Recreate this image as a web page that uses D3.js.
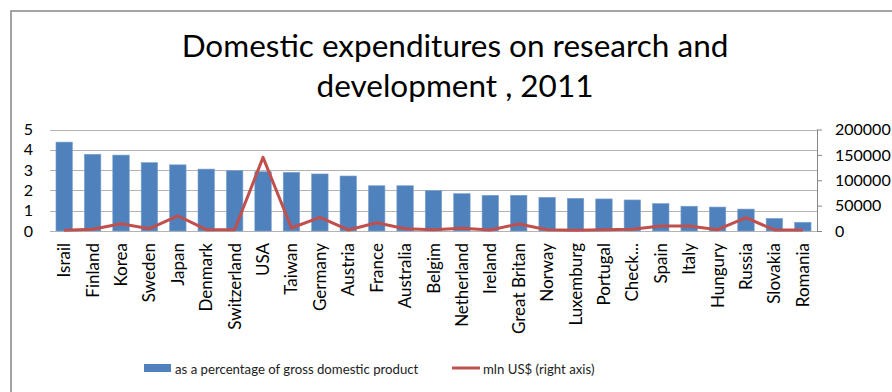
<!DOCTYPE html>
<html>
<head>
<meta charset="utf-8">
<script src="https://cdn.jsdelivr.net/npm/d3@7"></script>
<style>
  html, body { margin: 0; padding: 0; background: #fff; overflow: hidden; }
  svg { display: block; font-family: Lato, "Open Sans", sans-serif; }
</style>
</head>
<body>
<svg id="chart" width="892" height="392"></svg>
<script>
// R&D spending by country, 2011
const categories = ["Israil", "Finland", "Korea", "Sweden", "Japan", "Denmark", "Switzerland", "USA",
  "Taiwan", "Germany", "Austria", "France", "Australia", "Belgim", "Netherland", "Ireland",
  "Great Britan", "Norway", "Luxemburg", "Portugal", "Check...", "Spain", "Italy", "Hungury",
  "Russia", "Slovakia", "Romania"];

// share of gross domestic product, %
const gdpShare = [4.38, 3.78, 3.74, 3.37, 3.26, 3.05, 2.98, 2.92, 2.89, 2.81, 2.71, 2.23, 2.23,
  1.99, 1.84, 1.76, 1.76, 1.66, 1.61, 1.58, 1.53, 1.35, 1.22, 1.18, 1.08, 0.62, 0.43];

// spending, mln US$ (right axis)
const spendingMln = [1400, 3300, 14400, 4500, 30000, 2600, 2600, 145000, 5900, 27000, 2000, 16400,
  4500, 2600, 5300, 2000, 13800, 2600, 1400, 2600, 3300, 9900, 9900, 2600, 26200, 2000, 2000];

const leftTicks = [0, 1, 2, 3, 4, 5];
const rightTicks = [0, 50000, 100000, 150000, 200000];

const titleLines = ["Domestic expenditures on research and", "development , 2011"];
const legendLabels = ["as a percentage of gross domestic product", "mln US$ (right axis)"];

const barColor = "#4F81BD";
const lineColor = "#C0504D";

const svg = d3.select("#chart");

// outer chart frame
svg.append("rect")
  .attr("x", 11).attr("y", 11)
  .attr("width", 900).attr("height", 400)
  .attr("fill", "none").attr("stroke", "#878787").attr("stroke-width", 1.5);

// title
svg.append("g").selectAll("text")
  .data(titleLines)
  .join("text")
  .attr("x", 455)
  .attr("y", (d, i) => 57 + i * 40)
  .attr("text-anchor", "middle")
  .attr("font-size", 31.5)
  .attr("fill", "#000")
  .text(d => d);

const plot = { left: 50, right: 817, top: 129.5, bottom: 231 };

const x = d3.scaleBand()
  .domain(categories)
  .range([plot.left, plot.right])
  .paddingInner(0.42)
  .paddingOuter(0.21);

const yLeft = d3.scaleLinear().domain([0, 5]).range([plot.bottom, plot.top]);
const yRight = d3.scaleLinear().domain([0, 200000]).range([plot.bottom, plot.top]);

// horizontal gridlines
svg.append("g").selectAll("line")
  .data(leftTicks)
  .join("line")
  .attr("x1", plot.left).attr("x2", plot.right)
  .attr("y1", d => Math.round(yLeft(d)) + 0.5)
  .attr("y2", d => Math.round(yLeft(d)) + 0.5)
  .attr("stroke", "#b3b3b3").attr("stroke-width", 1);

// bars
svg.append("g").selectAll("rect")
  .data(categories)
  .join("rect")
  .attr("x", d => x(d))
  .attr("width", x.bandwidth())
  .attr("y", (d, i) => yLeft(gdpShare[i]))
  .attr("height", (d, i) => yLeft(0) - yLeft(gdpShare[i]))
  .attr("fill", barColor)
  .attr("stroke", "#7fa3cf").attr("stroke-width", 0.6);

// spending line
const line = d3.line()
  .x(d => x(d.c) + x.bandwidth() / 2)
  .y(d => yRight(d.v));

svg.append("path")
  .datum(categories.map((c, i) => ({ c, v: spendingMln[i] })))
  .attr("d", line)
  .attr("fill", "none")
  .attr("stroke", lineColor)
  .attr("stroke-width", 3)
  .attr("stroke-linejoin", "round");

// left axis
const axL = svg.append("g")
  .attr("transform", `translate(${plot.left},0)`)
  .call(d3.axisLeft(yLeft).tickValues(leftTicks).tickSize(0).tickPadding(17).tickFormat(d3.format("d")));
axL.select(".domain").remove();
axL.selectAll("text").attr("font-size", 16).attr("fill", "#000").attr("font-family", "Lato, sans-serif");

// right axis
const axR = svg.append("g")
  .attr("transform", `translate(${plot.right},0)`)
  .call(d3.axisRight(yRight).tickValues(rightTicks).tickSize(5).tickPadding(13).tickFormat(d3.format("d")));
axR.select(".domain").attr("stroke", "#878787").attr("d", `M0.5,${plot.top}V${plot.bottom}`);
axR.selectAll(".tick line").attr("stroke", "#878787");
axR.selectAll("text").attr("font-size", 16).attr("fill", "#000").attr("font-family", "Lato, sans-serif");

// category labels
svg.append("g").selectAll("text")
  .data(categories)
  .join("text")
  .attr("transform", d => `translate(${x(d) + x.bandwidth() / 2 + 6},243) rotate(-90)`)
  .attr("text-anchor", "end")
  .attr("font-size", 17)
  .attr("fill", "#000")
  .text(d => d);

// legend
const legend = svg.append("g");
legend.append("rect")
  .attr("x", 144).attr("y", 364).attr("width", 27).attr("height", 8)
  .attr("fill", barColor);
legend.append("text")
  .attr("x", 175).attr("y", 374)
  .attr("font-size", 13.2).attr("fill", "#222")
  .text(legendLabels[0]);
legend.append("line")
  .attr("x1", 452).attr("x2", 480).attr("y1", 368).attr("y2", 368)
  .attr("stroke", lineColor).attr("stroke-width", 3);
legend.append("text")
  .attr("x", 483).attr("y", 374)
  .attr("font-size", 13.2).attr("fill", "#222")
  .text(legendLabels[1]);
</script>
</body>
</html>
